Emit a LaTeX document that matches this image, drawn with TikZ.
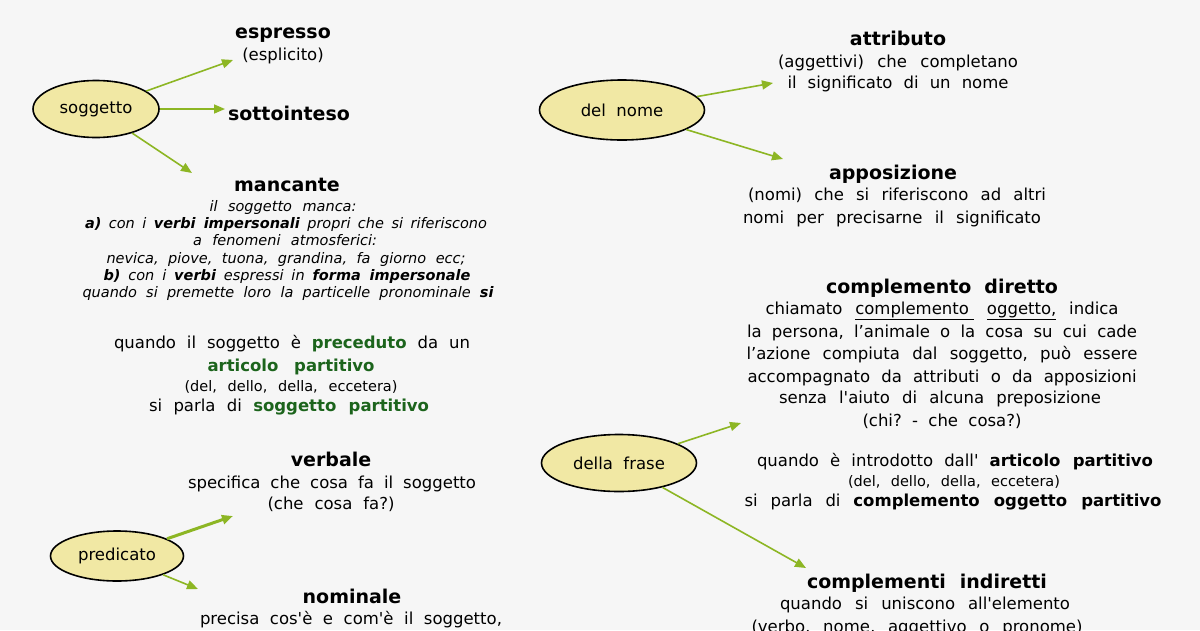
\documentclass[tikz,border=0pt]{standalone}
\usepackage{fontspec}
\setmainfont{DejaVu Sans}[Ligatures=TeXOff]
\usetikzlibrary{arrows.meta,shapes.geometric}
\definecolor{bg}{RGB}{246,246,246}
\definecolor{arr}{RGB}{141,182,36}
\definecolor{ellfill}{RGB}{241,232,164}
\definecolor{dgreen}{RGB}{28,100,28}
\newcommand\fR{\fontsize{16.5pt}{20pt}\selectfont}
\newcommand\fH{\fontsize{19pt}{23pt}\selectfont\bfseries}
\newcommand\fI{\fontsize{14.5pt}{17pt}\selectfont\itshape}
\newcommand\fS{\fontsize{14.5pt}{17pt}\selectfont}
\newcommand\sline[2]{\makebox[#1pt][s]{#2}}
\frenchspacing
\tikzset{
  ell/.style={ellipse, draw=black, line width=1.6pt, fill=ellfill, inner sep=0pt, font=\fR},
  ar/.style={draw=arr, line width=1.6pt, -{Triangle[length=11pt,width=9pt]}},
  txt/.style={anchor=base, inner sep=0pt, font=\fR},
  hd/.style={anchor=base, inner sep=0pt, font=\fH},
  itl/.style={anchor=base, inner sep=0pt, font=\fI},
  sm/.style={anchor=base, inner sep=0pt, font=\fS},
}
\begin{document}
\begin{tikzpicture}[x=1pt,y=-1pt]
\useasboundingbox (0,0) rectangle (1200,630);
\fill[bg] (0,0) rectangle (1200,630);

% ellipses
\node[ell, minimum width=126pt, minimum height=57pt] (sog) at (96,109) {soggetto};
\node[ell, minimum width=133pt, minimum height=50pt] (pred) at (117,556) {predicato};
\node[ell, minimum width=165pt, minimum height=60pt] (dn) at (622,110) {del\ \ nome};
\node[ell, minimum width=155pt, minimum height=57pt] (df) at (619,463) {della\ \ frase};

% arrow ends
\coordinate (e1) at (233,60);
\coordinate (e2) at (225,109);
\coordinate (e3) at (192,173);
\coordinate (e4) at (233,516);
\coordinate (e5) at (198,589);
\coordinate (e6) at (773,83);
\coordinate (e7) at (783,159);
\coordinate (e8) at (741,423);
\coordinate (e9) at (806,568);

\draw[ar] (sog) -- (e1);
\draw[ar] (sog) -- (e2);
\draw[ar] (sog) -- (e3);
\draw[ar, line width=3pt] (pred) -- (e4);
\draw[ar] (pred) -- (e5);
\draw[ar] (dn) -- (e6);
\draw[ar] (dn) -- (e7);
\draw[ar] (df) -- (e8);
\draw[ar] (df) -- (e9);

% left texts
\node[hd] (espresso) at (283,38) {espresso};
\node[txt] (esplicito) at (283,60) {(esplicito)};
\node[hd] (sotto) at (289,120) {sottointeso};
\node[hd] (manc) at (287,191) {mancante};
\node[itl] (m1) at (283,211.5) {\sline{147}{il soggetto manca:}};
\node[itl] (m2) at (286,228.5) {\sline{402}{\textbf{a)} con i \textbf{verbi impersonali} propri che si riferiscono}};
\node[itl] (m3) at (285,245.5) {\sline{184}{a fenomeni atmosferici:}};
\node[itl] (m4) at (286,263.5) {\sline{359}{nevica, piove, tuona, grandina, fa giorno ecc;}};
\node[itl] (m5) at (287,280.5) {\sline{367}{\textbf{b)} con i \textbf{verbi} espressi in \textbf{forma impersonale}}};
\node[itl] (m6) at (288,297.5) {\sline{411}{quando si premette loro la particelle pronominale \textbf{si}}};

\node[txt] (g1) at (292,348) {\sline{356}{quando il soggetto è \textcolor{dgreen}{\bfseries preceduto} da un}};
\node[txt] (g2) at (291,371) {\sline{167}{\color{dgreen}\bfseries articolo partitivo}};
\node[sm] (g3) at (291,391.5) {\sline{213}{(del, dello, della, eccetera)}};
\node[txt] (g4) at (289,411) {\sline{280}{si parla di \textcolor{dgreen}{\bfseries soggetto partitivo}}};

\node[hd] (verb) at (331,466) {verbale};
\node[txt] (v1) at (332,488) {\sline{288}{specifica che cosa fa il soggetto}};
\node[txt] (v2) at (331,509) {\sline{127}{(che cosa fa?)}};
\node[hd] (nom) at (352,603) {nominale};
\node[txt] (n1) at (351,624) {\sline{302}{precisa cos'è e com'è il soggetto,}};

% right texts
\node[hd] (attr) at (898,45) {attributo};
\node[txt] (a1) at (898,67) {\sline{240}{(aggettivi) che completano}};
\node[txt] (a2) at (898,88) {\sline{221}{il significato di un nome}};
\node[hd] (appo) at (893,179) {apposizione};
\node[txt] (p1) at (897,200) {\sline{298}{(nomi) che si riferiscono ad altri}};
\node[txt] (p2) at (892,223) {\sline{298}{nomi per precisarne il significato}};

\node[hd] (cd) at (942,293) {\sline{232}{complemento diretto}};
\node[txt] (c1) at (942,314) {\sline{353}{chiamato \underline{complemento\ } \underline{oggetto,} indica}};
\node[txt] (c2) at (942,337) {\sline{390}{la persona, l’animale o la cosa su cui cade}};
\node[txt] (c3) at (942,359) {\sline{391}{l’azione compiuta dal soggetto, può essere}};
\node[txt] (c4) at (942,382) {\sline{389}{accompagnato da attributi o da apposizioni}};
\node[txt] (c5) at (940,403) {\sline{322}{senza l'aiuto di alcuna preposizione}};
\node[txt] (c6) at (942,426) {\sline{159}{(chi? - che cosa?)}};
\node[txt] (q1) at (955,466) {\sline{396}{quando è introdotto dall' \textbf{articolo partitivo}}};
\node[sm] (q2) at (954,486.5) {\sline{212}{(del, dello, della, eccetera)}};
\node[txt] (q3) at (953,506) {\sline{417}{si parla di \textbf{complemento oggetto partitivo}}};

\node[hd] (ci) at (927,588) {\sline{240}{complementi indiretti}};
\node[txt] (i1) at (925,609) {\sline{290}{quando si uniscono all'elemento}};
\node[txt] (i2) at (917,632) {\sline{331}{(verbo, nome, aggettivo o pronome)}};
\end{tikzpicture}
\end{document}
